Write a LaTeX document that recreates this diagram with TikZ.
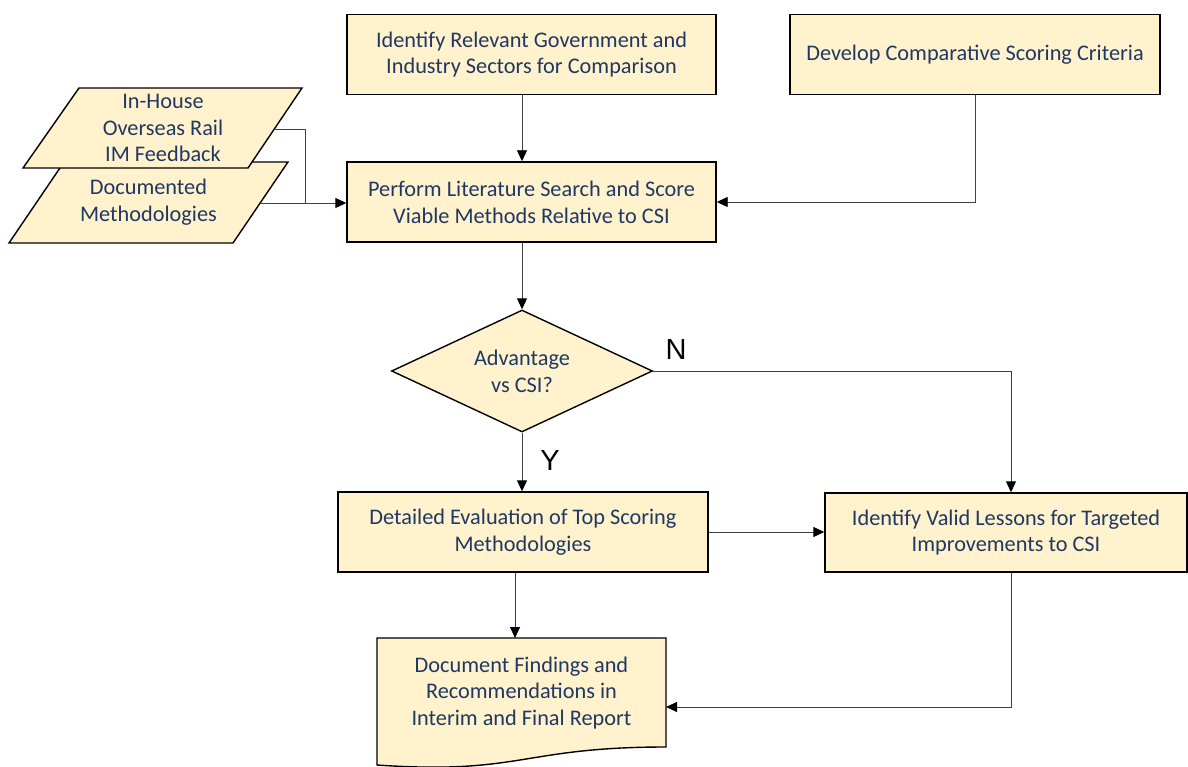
\documentclass[tikz,border=0pt]{standalone}
\usepackage{fontspec}
\setmainfont{Carlito}
\newfontfamily\labelfont{Liberation Sans}
\usetikzlibrary{shapes.geometric,arrows.meta}
\definecolor{boxfill}{HTML}{FFF2CC}
\definecolor{txtcol}{HTML}{1F3864}
\definecolor{conncol}{HTML}{404040}
\begin{document}
\begin{tikzpicture}[x=1pt,y=-1pt,
  every node/.style={font=\fontsize{22.3}{26.7}\selectfont, text=txtcol, align=center},
  proc/.style={draw=black, line width=1.4pt, fill=boxfill, minimum width=369pt, minimum height=80pt, inner sep=0pt},
  shapeline/.style={draw=black, line width=1.4pt, fill=boxfill},
  conn/.style={draw=conncol, line width=0.9pt},
  arr/.style={conn, -{Triangle[length=11pt,width=10pt,color=black]}},
  yn/.style={font=\labelfont\fontsize{29}{30}\selectfont, text=black}]
\useasboundingbox (0,0) rectangle (1188,767);

% process boxes
\node[proc] (A) at (531.5,54.5) {Identify Relevant Government and\\Industry Sectors for Comparison};
\node[proc, minimum width=370pt] (B) at (975,54.5) {Develop Comparative Scoring Criteria};
\node[proc] (C) at (531.5,202) {Perform Literature Search and Score\\Viable Methods Relative to CSI};
\node[proc, minimum width=370pt] (D) at (523,532) {Detailed Evaluation of Top Scoring\\Methodologies};
\node[proc, minimum width=362pt, minimum height=79pt] (E) at (1006,532.5) {Identify Valid Lessons for Targeted\\Improvements to CSI};

% input parallelograms
\draw[shapeline] (64,162) -- (288,162) -- (233,243) -- (9,243) -- cycle;
\node (P2) at (148.5,202) {Documented\\Methodologies};
\draw[shapeline] (79,88) -- (302,88) -- (248,168) -- (23,168) -- cycle;
\node (P1) at (163,128) {In-House\\Overseas Rail\\IM Feedback};
\coordinate (p1r) at (274,129);
\coordinate (p2r) at (260,203);
\coordinate (jn) at (305,203);

% decision
\node[draw=black, line width=1.4pt, fill=boxfill, diamond, minimum width=261pt, minimum height=122pt, inner sep=0pt] (dia) at (522,371) {};
\node (diatext) at (dia.center) {Advantage\\vs CSI?};

% document shape
\begin{scope}
\clip (0,0) rectangle (1188,767);
\draw[shapeline] (377,638) -- (666,638) -- (666,747) .. controls (521.5,747) and (521.5,775) .. (377,765) -- cycle;
\end{scope}
\node (F) at (521.5,693) {Document Findings and\\Recommendations in\\Interim and Final Report};
\coordinate (doctop) at (515,638);
\coordinate (docr) at (666,707);

% labels
\node[yn] (nlab) at (676,350) {N};
\node[yn] (ylab) at (550,461) {Y};

% connectors
\draw[conn] (p1r) -| (jn);
\draw[arr] (p2r) -- (C.west |- p2r);
\draw[arr] ([xshift=-9.5pt]A.south) -- ([xshift=-9.5pt]C.north);
\draw[arr] (B.south) |- (C.east);
\draw[arr] ([xshift=-9.5pt]C.south) -- (dia.north);
\draw[arr] (dia.east) -| ([xshift=5pt]E.north);
\draw[arr] (dia.south) -- (dia.south |- D.north);
\draw[arr] (D.east) -- (E.west |- D.east);
\draw[arr] (D.south -| doctop) -- (doctop);
\draw[arr] ([xshift=5pt]E.south) |- (docr);
\end{tikzpicture}
\end{document}
